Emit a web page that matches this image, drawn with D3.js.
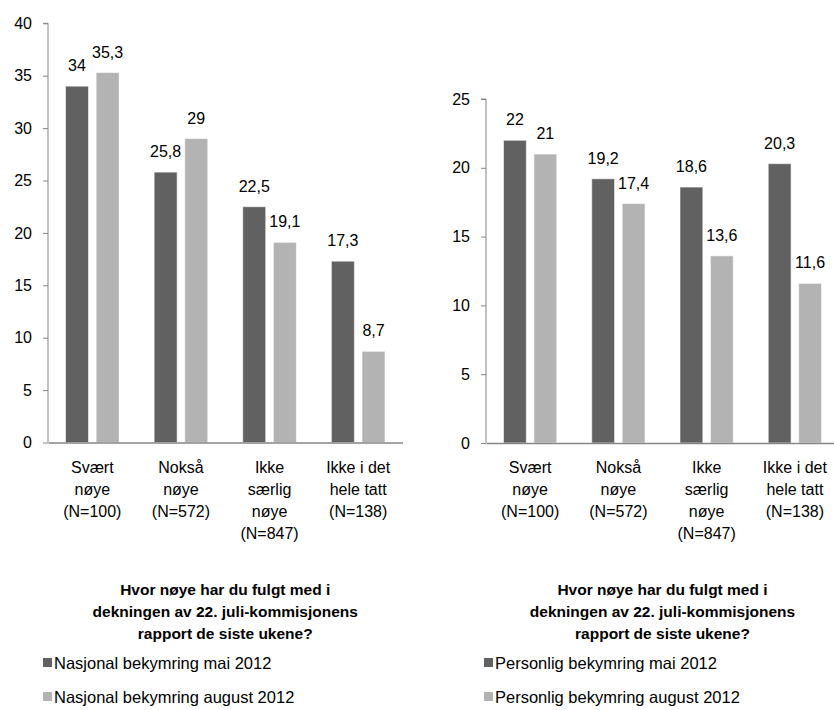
<!DOCTYPE html>
<html>
<head>
<meta charset="utf-8">
<script src="https://cdn.jsdelivr.net/npm/d3@7"></script>
<style>
  html, body { margin: 0; padding: 0; background: #fff; }
  svg { display: block; }
  text { font-family: "Liberation Sans", Arial, sans-serif; fill: #000; }
</style>
</head>
<body>
<svg id="chart" width="834" height="710"></svg>
<script>
const categories = [
  ["Svært", "nøye", "(N=100)"],
  ["Nokså", "nøye", "(N=572)"],
  ["Ikke", "særlig", "nøye", "(N=847)"],
  ["Ikke i det", "hele tatt", "(N=138)"]
];
const titleLines = ["Hvor nøye har du fulgt med i", "dekningen av 22. juli-kommisjonens", "rapport de siste ukene?"];

const nasjonalMai = [34, 25.8, 22.5, 17.3];
const nasjonalAugust = [35.3, 29, 19.1, 8.7];
const personligMai = [22, 19.2, 18.6, 20.3];
const personligAugust = [21, 17.4, 13.6, 11.6];

const leftTicks = [0, 5, 10, 15, 20, 25, 30, 35, 40];
const rightTicks = [0, 5, 10, 15, 20, 25];

const leftSeriesNames = ["Nasjonal bekymring mai 2012", "Nasjonal bekymring august 2012"];
const rightSeriesNames = ["Personlig bekymring mai 2012", "Personlig bekymring august 2012"];

const colors = ["#616161", "#b3b3b3"];
const axisColor = "#868686";

const svg = d3.select("#chart");

function fmt(v) { return String(v).replace(".", ","); }

function panel(cfg) {
  const g = svg.append("g");
  const y = d3.scaleLinear().domain([0, cfg.max]).range([cfg.y0, cfg.yTop]);
  const x = d3.scaleBand().domain(d3.range(categories.length)).range([cfg.x0, cfg.x1]).padding(0);
  const xs = d3.scaleBand().domain([0, 1]).range([17.5, x.bandwidth() - 17.5]).paddingInner(0.25);

  // y axis
  const yAxis = d3.axisLeft(y).tickValues(cfg.ticks).tickSize(5).tickPadding(11).tickFormat(d => d);
  const ya = g.append("g").attr("transform", `translate(${cfg.x0},0)`).call(yAxis);
  ya.select(".domain").attr("stroke", axisColor).attr("d", `M-5,${cfg.yTop}H0V${cfg.y0}`);
  ya.selectAll(".tick line").attr("stroke", axisColor);
  ya.selectAll(".tick text").attr("font-size", "16px").attr("font-family", "Liberation Sans, Arial, sans-serif").attr("fill", "#000");

  // bars
  cfg.series.forEach((vals, si) => {
    g.selectAll(null).data(vals).enter().append("rect")
      .attr("x", (d, i) => x(i) + xs(si))
      .attr("y", d => y(d))
      .attr("width", xs.bandwidth())
      .attr("height", d => cfg.y0 - y(d))
      .attr("fill", colors[si])
      .attr("stroke", "rgba(255,255,255,0.55)")
      .attr("stroke-width", 1);
    g.selectAll(null).data(vals).enter().append("text")
      .attr("x", (d, i) => x(i) + xs(si) + xs.bandwidth() / 2)
      .attr("y", d => y(d) - 15)
      .attr("text-anchor", "middle")
      .attr("font-size", "16px")
      .text(d => fmt(d));
  });

  // x axis line
  const xAxis = d3.axisBottom(x).tickSize(0).tickFormat("");
  const xa = g.append("g").attr("transform", `translate(0,${cfg.y0})`).call(xAxis);
  xa.select(".domain").attr("stroke", axisColor).attr("stroke-width", 1.3);

  // category labels
  categories.forEach((lines, i) => {
    const t = g.append("text")
      .attr("x", x(i) + x.bandwidth() / 2)
      .attr("y", 473)
      .attr("text-anchor", "middle")
      .attr("font-size", "16px");
    lines.forEach((ln, k) => {
      t.append("tspan").attr("x", x(i) + x.bandwidth() / 2).attr("y", 473 + k * 22).text(ln);
    });
  });

  // title
  const cx = (cfg.x0 + cfg.x1) / 2;
  titleLines.forEach((ln, k) => {
    g.append("text").attr("x", cx).attr("y", 595 + k * 22)
      .attr("text-anchor", "middle").attr("font-size", "15.5px").attr("font-weight", "bold").text(ln);
  });

  // legend
  cfg.names.forEach((nm, si) => {
    const ly = 663 + si * 34;
    g.append("rect").attr("x", cfg.legX).attr("y", ly - 5).attr("width", 9).attr("height", 9).attr("fill", colors[si]);
    g.append("text").attr("x", cfg.legX + 11).attr("y", ly + 6).attr("font-size", "16.5px").text(nm);
  });
}

panel({ x0: 48, x1: 402.5, yTop: 23.3, y0: 442.5, max: 40, ticks: leftTicks,
        series: [nasjonalMai, nasjonalAugust], names: leftSeriesNames, legX: 43 });
panel({ x0: 486, x1: 839, yTop: 99, y0: 443, max: 25, ticks: rightTicks,
        series: [personligMai, personligAugust], names: rightSeriesNames, legX: 484 });
</script>
</body>
</html>
